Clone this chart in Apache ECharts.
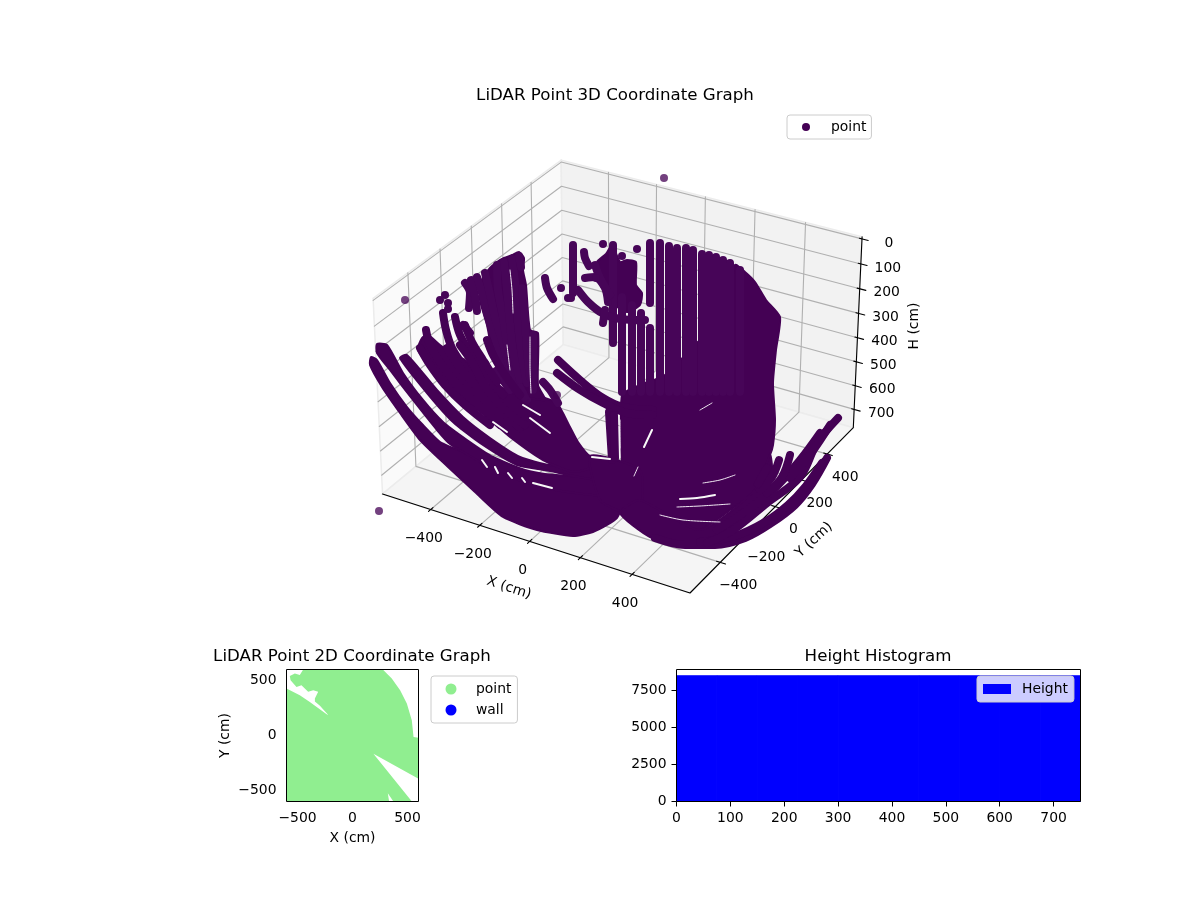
<!DOCTYPE html>
<html>
<head>
<meta charset="utf-8">
<script src="https://cdn.jsdelivr.net/npm/echarts@6/dist/echarts.min.js"></script>
<style>html,body{margin:0;background:#fff}#main{width:1200px;height:900px}</style>
</head>
<body>
<div id="main"></div>
<script>
// ---- values ----
const xTicks3d = [-400, -200, 0, 200, 400];
const yTicks3d = [-400, -200, 0, 200, 400];
const hTicks3d = [0, 100, 200, 300, 400, 500, 600, 700];
const xLimits3d = [-600, 620];
const yLimits3d = [-610, 610];
const hLimits3d = [-8, 778];

// no GL here: the 3D cloud is kept in the view plane of the projection
const strayPoints = [[664,178],[405,300],[379,511],[557,395]];
const clusterDots = [[561,288],[568,298],[603,244],[622,256],[637,249],[571,298],[445,295],[440,300],[448,303],[448,309],[596,278]];
const leftArcs = [
  [[426,330],[430,345],[440,362],[455,382],[475,402],[500,425]],
  [[420,348],[430,365],[445,385],[465,405],[490,425]],
  [[443,313],[446,330],[452,348],[465,368],[482,390],[505,412]],
  [[447,348],[458,365],[475,385],[495,405],[520,428]],
  [[455,317],[460,335],[470,352],[485,372],[503,395]],
  [[465,325],[472,342],[483,360],[497,382]],
  [[460,345],[472,362],[483,383],[500,405],[525,425]],
  [[487,340],[493,355],[505,375],[520,395]]
];
const upperStripes = [
  [[465,283],[470,293],[469,308]],
  [[471,280],[475,296],[477,311]],
  [[477,277],[482,293],[487,313],[493,333],[502,357],[513,383],[527,400]],
  [[485,273],[489,290],[495,317],[502,340],[510,367],[523,393]],
  [[497,265],[498,290],[503,317],[507,343],[513,373],[525,397]],
  [[504,262],[507,290],[510,323],[513,350],[520,380]],
  [[512,259],[516,290],[518,323],[522,357],[527,383]],
  [[519,256],[521,267]],
  [[522,288],[525,320],[527,350],[530,377]],
  [[533,335],[533,367],[533,390]],
  [[463,325],[470,333]],
  [[496,371],[510,390]],
  [[485,363],[490,380]],
  [[543,382],[550,390],[558,403]]
];
const upperCluster = [
  [[573,245],[573,293]],
  [[584,252],[585,258],[589,266]],
  [[613,245],[613,343]],
  [[578,290],[588,302],[602,313],[620,319],[645,320]],
  [[585,278],[595,277],[605,288],[608,302]],
  [[595,265],[600,278],[610,295]],
  [[545,278],[547,288],[553,299]],
  [[603,323],[605,310]]
];
const wallStripes = [
  [[622,297],[622,392]],
  [[632,305],[632,392]],
  [[641,313],[641,392]],
  [[650,243],[650,303]],
  [[650,328],[650,392]],
  [[660,243],[660,392]],
  [[669,246],[669,392]],
  [[677,248],[677,392]],
  [[686,248],[686,392]],
  [[693,250],[693,392]],
  [[702,254],[702,392]],
  [[709,255],[709,392]],
  [[716,257],[716,392]],
  [[723,260],[723,392]],
  [[730,263],[730,392]],
  [[740,270],[740,392]]
];
const floorArcs = [
  [[558,360],[580,380],[603,398],[623,407],[653,410]],
  [[557,373],[580,390],[603,403],[627,413],[653,415]],
  [[609,412],[612,460]],
  [[614,415],[615,458]]
];
const rightArcs = [
  [[827,458],[812,484],[795,505],[770,524],[745,538],[715,545],[685,545],[655,538]],
  [[822,463],[806,486],[788,505],[765,522],[735,536],[700,542]],
  [[838,418],[817,443],[800,477],[767,503],[733,530],[707,543]],
  [[820,433],[800,460],[773,490],[743,513],[717,530]],
  [[830,425],[812,452],[790,478]],
  [[790,455],[782,477],[767,493]],
  [[779,460],[772,477],[760,490]],
  [[767,468],[758,484]]
];
const massOutlines = [
  [[370,365],[382,387],[400,413],[420,440],[447,466],[475,492],[503,517],[537,530],[573,536],[593,532],[607,525],[617,518],[622,505],[618,490],[552,488],[533,483],[507,475],[487,465],[470,455],[453,448],[440,442],[423,425],[407,407],[390,383],[377,360],[371,357]],
  [[377,344],[377,353],[390,370],[413,400],[437,430],[450,444],[470,456],[487,466],[507,476],[545,488],[600,495],[600,480],[545,474],[525,470],[493,457],[467,440],[443,422],[423,400],[403,373],[387,345]],
  [[400,358],[427,393],[453,422],[480,443],[517,465],[545,470],[600,480],[600,465],[550,465],[520,457],[490,438],[463,417],[437,390],[407,355]],
  [[418,350],[440,377],[467,402],[487,417],[510,437],[543,460],[575,472],[612,459],[590,456],[578,442],[570,427],[557,403],[545,398],[533,395],[510,392],[495,383],[480,372],[465,360],[450,352],[440,345],[428,335],[422,338]],
  [[490,268],[497,262],[504,258],[512,255],[519,252],[524,258],[523,270],[526,285],[530,330],[538,333],[538,385],[545,400],[510,392],[500,370],[492,350],[487,325],[480,300],[482,280]],
  [[597,262],[606,254],[612,245],[620,262],[627,260],[636,262],[636,285],[642,293],[640,305],[628,312],[615,305],[608,290],[600,275]],
  [[735,265],[745,272],[755,282],[766,300],[780,317],[776,350],[773,383],[775,420],[773,445],[770,455],[755,490],[730,510],[700,530],[665,528],[640,515],[620,513],[622,470],[622,395],[640,385],[665,375],[700,340],[725,320]],
  [[590,456],[640,470],[640,510],[620,511],[600,500]],
  [[620,513],[650,537],[690,546],[710,540],[740,520],[765,495],[772,470],[770,455],[755,490],[700,530],[640,500]]
];
const wideSlivers = [
  [[530,418],[550,433]],
  [[523,405],[540,415]],
  [[493,422],[507,432]],
  [[482,460],[487,467]],
  [[495,467],[498,473]],
  [[508,473],[512,478]],
  [[522,478],[525,482]],
  [[533,483],[552,488]],
  [[680,499],[697,498],[715,495]],
  [[652,430],[644,447]],
  [[592,457],[610,459]]
];
const thinSlivers = [
  [[703,483],[720,480],[735,475]],
  [[660,515],[683,520],[720,522]],
  [[677,507],[700,506],[730,504]],
  [[638,467],[634,476]],
  [[700,410],[712,403]],
  [[510,270],[512,290],[513,313]],
  [[530,337],[530,365],[531,393]],
  [[507,345],[510,370]],
  [[620,420],[620,448]]
];

const xTicks2d = [-500, 0, 500];
const yTicks2d = [-500, 0, 500];
const pointArea2d = [[-448,600],[275,600],[357,518],[433,412],[494,290],[539,138],[555,-14],[600,-20],[600,-394],[190,-166],[540,-600],[372,-600],[321,-524],[333,-600],[-600,-600],[-600,427],[-479,366],[-388,305],[-235,193],[-220,187],[-296,270],[-342,308],[-342,336],[-312,397],[-357,412],[-403,397],[-464,457],[-509,442],[-563,503],[-570,540],[-524,564],[-479,549]];

const heightEdges = [0, 75, 150, 225, 300, 375, 450, 525, 600, 675, 750];
const heightCounts = [8500, 8500, 8500, 8500, 8500, 8500, 8500, 8500, 8500, 8500];
const histXTicks = [0, 100, 200, 300, 400, 500, 600, 700];
const histYTicks = [0, 2500, 5000, 7500];

// ---- projection of the 3D box, same camera as the reference (elev 30, azim -60) ----
const FONT = '"DejaVu Sans"';
const PURPLE = '#440154';
const BEAD = '#470558';
const elev = 30 * Math.PI / 180, azim = -60 * Math.PI / 180, dist = 10;
const boxSize = [1.19, 1.19, 0.76];
const w = [Math.cos(elev) * Math.cos(azim), Math.cos(elev) * Math.sin(azim), Math.sin(elev)];
const u = [-Math.sin(azim), Math.cos(azim), 0];
const v = [w[1] * u[2] - w[2] * u[1], w[2] * u[0] - w[0] * u[2], w[0] * u[1] - w[1] * u[0]];
const dot = (a, b) => a[0] * b[0] + a[1] * b[1] + a[2] * b[2];
function camera(x, y, h) {
  const p = [
    ((x - xLimits3d[0]) / (xLimits3d[1] - xLimits3d[0]) - 0.5) * boxSize[0],
    ((y - yLimits3d[0]) / (yLimits3d[1] - yLimits3d[0]) - 0.5) * boxSize[1],
    ((hLimits3d[1] - h) / (hLimits3d[1] - hLimits3d[0]) - 0.5) * boxSize[2]
  ];
  const d = dist - dot(p, w);
  return [dot(p, u) / d, dot(p, v) / d];
}
const [x0, x1] = xLimits3d, [y0, y1] = yLimits3d, [hTop, hBot] = hLimits3d;
function proj(x, y, h) {
  const c = camera(x, y, h);
  return [690 + (c[0] - camera(x1, y0, hBot)[0]) * 2950, 593 - (c[1] - camera(x1, y0, hBot)[1]) * 2935];
}

const series = [];
function lineSeries(points, color, width, z, smooth) {
  series.push({
    type: 'line', xAxisIndex: 0, yAxisIndex: 0, data: points, showSymbol: false, silent: true, z,
    smooth: smooth || false, clip: false,
    lineStyle: { color, width, cap: 'round', join: 'round', opacity: 1 }
  });
}

// panes
const paneFaces = [
  { color: '#fafafa', pts: [[x0, y0, hBot], [x0, y1, hBot], [x0, y1, hTop], [x0, y0, hTop]] },
  { color: '#f2f2f2', pts: [[x0, y1, hBot], [x1, y1, hBot], [x1, y1, hTop], [x0, y1, hTop]] },
  { color: '#f5f5f5', pts: [[x0, y0, hBot], [x1, y0, hBot], [x1, y1, hBot], [x0, y1, hBot]] }
];
series.push({
  type: 'custom', xAxisIndex: 0, yAxisIndex: 0, silent: true, z: 1, clip: false,
  data: paneFaces.map((f, i) => [i]),
  renderItem(params, api) {
    const f = paneFaces[params.dataIndex];
    return {
      type: 'polygon',
      shape: { points: f.pts.map(p => api.coord(proj(p[0], p[1], p[2]))) },
      style: { fill: f.color, stroke: '#ececec', lineWidth: 1.5 }
    };
  }
});

// grid lines
xTicks3d.forEach(t => lineSeries([proj(t, y0, hBot), proj(t, y1, hBot), proj(t, y1, hTop)], '#b0b0b0', 1.1, 2));
yTicks3d.forEach(t => lineSeries([proj(x1, t, hBot), proj(x0, t, hBot), proj(x0, t, hTop)], '#b0b0b0', 1.1, 2));
hTicks3d.forEach(t => lineSeries([proj(x0, y0, t), proj(x0, y1, t), proj(x1, y1, t)], '#b0b0b0', 1.1, 2));

// axis lines and ticks
lineSeries([proj(x0, y0, hBot), proj(x1, y0, hBot), proj(x1, y1, hBot), proj(x1, y1, hTop)], '#000', 1.1, 2);
xTicks3d.forEach(t => lineSeries([proj(t, y0 - 14, hBot), proj(t, y0 + 14, hBot)], '#000', 1.1, 2));
yTicks3d.forEach(t => lineSeries([proj(x1 - 14, t, hBot), proj(x1 + 20, t, hBot)], '#000', 1.1, 2));
hTicks3d.forEach(t => lineSeries([proj(x1 - 10, y1, t), proj(x1 + 24, y1, t)], '#000', 1.1, 2));

// cloud
series.push({
  type: 'custom', xAxisIndex: 0, yAxisIndex: 0, silent: true, z: 3, clip: false,
  data: massOutlines.map((m, i) => [i]),
  renderItem(params, api) {
    return {
      type: 'polygon',
      shape: { points: massOutlines[params.dataIndex].map(p => api.coord(p)), smooth: 0.2 },
      style: { fill: PURPLE, stroke: PURPLE, lineWidth: 2, lineJoin: 'round' }
    };
  }
});
upperStripes.concat(upperCluster).forEach(s => lineSeries(s, BEAD, 8, 3, 0.3));
wallStripes.forEach(s => lineSeries(s, BEAD, 8, 3));
leftArcs.concat(floorArcs, rightArcs).forEach(s => lineSeries(s, PURPLE, 8, 3, 0.35));
wideSlivers.forEach(s => lineSeries(s, '#f8f8f8', 2, 4, 0.3));
thinSlivers.forEach(s => lineSeries(s, '#f0e8f2', 1, 4, 0.3));
series.push({
  type: 'scatter', name: 'point', xAxisIndex: 0, yAxisIndex: 0, data: strayPoints, silent: true, z: 3,
  symbolSize: 8, itemStyle: { color: PURPLE, opacity: 0.75 }
});
series.push({
  type: 'scatter', xAxisIndex: 0, yAxisIndex: 0, data: clusterDots, silent: true, z: 3,
  symbolSize: 8, itemStyle: { color: BEAD, opacity: 1 }
});

// text of the 3D panel
const panelTexts = [];
xTicks3d.forEach(t => { const p = proj(t, y0, hBot); panelTexts.push({ text: String(t).replace('-', '\u2212'), at: [p[0] - 7, p[1] + 29], rot: 0 }); });
yTicks3d.forEach(t => { const p = proj(x1, t, hBot); panelTexts.push({ text: String(t).replace('-', '\u2212'), at: [p[0] + 18, p[1] + 23], rot: 0 }); });
hTicks3d.forEach(t => { const p = proj(x1, y1, t); panelTexts.push({ text: String(t), at: [p[0] + 27, p[1] + 4], rot: 0 }); });
panelTexts.push({ text: 'X (cm)', at: [509, 588], rot: -18 });
panelTexts.push({ text: 'Y (cm)', at: [814, 540], rot: 43 });
panelTexts.push({ text: 'H (cm)', at: [914, 326], rot: 90 });
series.push({
  type: 'custom', xAxisIndex: 0, yAxisIndex: 0, silent: true, z: 5, clip: false,
  data: panelTexts.map((t, i) => [i]),
  renderItem(params, api) {
    const t = panelTexts[params.dataIndex];
    const c = api.coord(t.at);
    return {
      type: 'text', x: c[0], y: c[1], rotation: t.rot * Math.PI / 180,
      style: { text: t.text, x: 0, y: 0, align: 'center', verticalAlign: 'middle', font: '13.9px ' + FONT, fill: '#000' }
    };
  }
});

// 2D panel
series.push({
  type: 'custom', name: 'point', xAxisIndex: 1, yAxisIndex: 1, silent: true, z: 3,
  data: [[0]],
  renderItem(params, api) {
    return { type: 'polygon', shape: { points: pointArea2d.map(p => api.coord(p)) }, style: { fill: '#90ee90' } };
  }
});
series.push({ type: 'scatter', name: 'wall', xAxisIndex: 1, yAxisIndex: 1, data: [], itemStyle: { color: '#0000ff', opacity: 1 } });

// histogram
series.push({
  type: 'custom', name: 'Height', xAxisIndex: 2, yAxisIndex: 2, silent: true, z: 3,
  data: heightCounts.map((c, i) => [heightEdges[i], heightEdges[i + 1], c]),
  encode: { x: [0, 1], y: 2 },
  renderItem(params, api) {
    const a = api.coord([api.value(0), api.value(2)]);
    const b = api.coord([api.value(1), 0]);
    return { type: 'rect', shape: { x: a[0], y: a[1], width: b[0] - a[0], height: b[1] - a[1] }, style: { fill: '#0000ff', stroke: '#0000ff', lineWidth: 1 } };
  }
});

// black frames of the two flat panels
[[1, [-600, 600], [-600, 600]], [2, [0, 750], [0, 8925]]].forEach(([idx, xr, yr]) => {
  series.push({
    type: 'custom', xAxisIndex: idx, yAxisIndex: idx, silent: true, z: 6, clip: false, data: [[0]],
    renderItem(params, api) {
      const a = api.coord([xr[0], yr[1]]), b = api.coord([xr[1], yr[0]]);
      return { type: 'rect', shape: { x: a[0], y: a[1], width: b[0] - a[0], height: b[1] - a[1] }, style: { fill: 'none', stroke: '#000', lineWidth: 1 } };
    }
  });
});

const minusLabel = val => String(val).replace('-', '\u2212');
function flatAxis(ticks, min, max, extra) {
  return Object.assign({
    type: 'value', min, max, splitLine: { show: false },
    axisLine: { show: false },
    axisTick: { show: true, length: 5, lineStyle: { color: '#000', width: 1 }, customValues: ticks },
    axisLabel: { color: '#000', fontFamily: FONT, fontSize: 13.9, margin: 10, customValues: ticks, formatter: minusLabel },
    nameTextStyle: { color: '#000', fontFamily: FONT, fontSize: 13.9 }
  }, extra);
}
const legendBase = {
  orient: 'vertical', selectedMode: false, backgroundColor: 'rgba(255,255,255,0.8)',
  borderColor: '#ccc', borderWidth: 1, borderRadius: 3, itemWidth: 28, z: 8,
  textStyle: { color: '#000', fontFamily: FONT, fontSize: 13.9, padding: [0, 0, 0, 6] }
};
const titleStyle = { color: '#000', fontFamily: FONT, fontSize: 16.67, fontWeight: 'normal' };

const chart = echarts.init(document.getElementById('main'));
chart.setOption({
  animation: false,
  backgroundColor: '#fff',
  title: [
    { text: 'LiDAR Point 3D Coordinate Graph', left: 610, top: 82, textAlign: 'center', textStyle: titleStyle },
    { text: 'LiDAR Point 2D Coordinate Graph', left: 347, top: 643, textAlign: 'center', textStyle: titleStyle },
    { text: 'Height Histogram', left: 873, top: 643, textAlign: 'center', textStyle: titleStyle }
  ],
  grid: [
    { left: 0, top: 0, width: 1200, height: 900 },
    { left: 286.5, top: 669.5, width: 132, height: 132 },
    { left: 676.5, top: 669.5, width: 404, height: 132 }
  ],
  xAxis: [
    { type: 'value', gridIndex: 0, min: 0, max: 1200, show: false },
    flatAxis(xTicks2d, -600, 600, { gridIndex: 1, name: 'X (cm)', nameLocation: 'middle', nameGap: 30 }),
    flatAxis(histXTicks, 0, 750, { gridIndex: 2 })
  ],
  yAxis: [
    { type: 'value', gridIndex: 0, min: 0, max: 900, inverse: true, show: false },
    flatAxis(yTicks2d, -600, 600, { gridIndex: 1, name: 'Y (cm)', nameLocation: 'middle', nameGap: 54 }),
    flatAxis(histYTicks, 0, 8925, { gridIndex: 2 })
  ],
  legend: [
    Object.assign({}, legendBase, { left: 787, top: 115, padding: [5, 5, 5, 15], itemHeight: 8, data: [{ name: 'point', icon: 'circle', itemStyle: { color: PURPLE, opacity: 1 } }] }),
    Object.assign({}, legendBase, { left: 431, top: 676, padding: [6, 6, 6, 14.5], itemHeight: 11, itemGap: 7, data: [{ name: 'point', icon: 'circle', itemStyle: { color: '#90ee90', opacity: 1 } }, { name: 'wall', icon: 'circle', itemStyle: { color: '#0000ff', opacity: 1 } }] }),
    Object.assign({}, legendBase, { left: 977, top: 676, padding: 6, itemHeight: 10, data: [{ name: 'Height', icon: 'rect', itemStyle: { color: '#0000ff', opacity: 1 } }] })
  ],
  series
});
window.onresize = function() {
  chart.resize();
};
</script>
</body>
</html>
